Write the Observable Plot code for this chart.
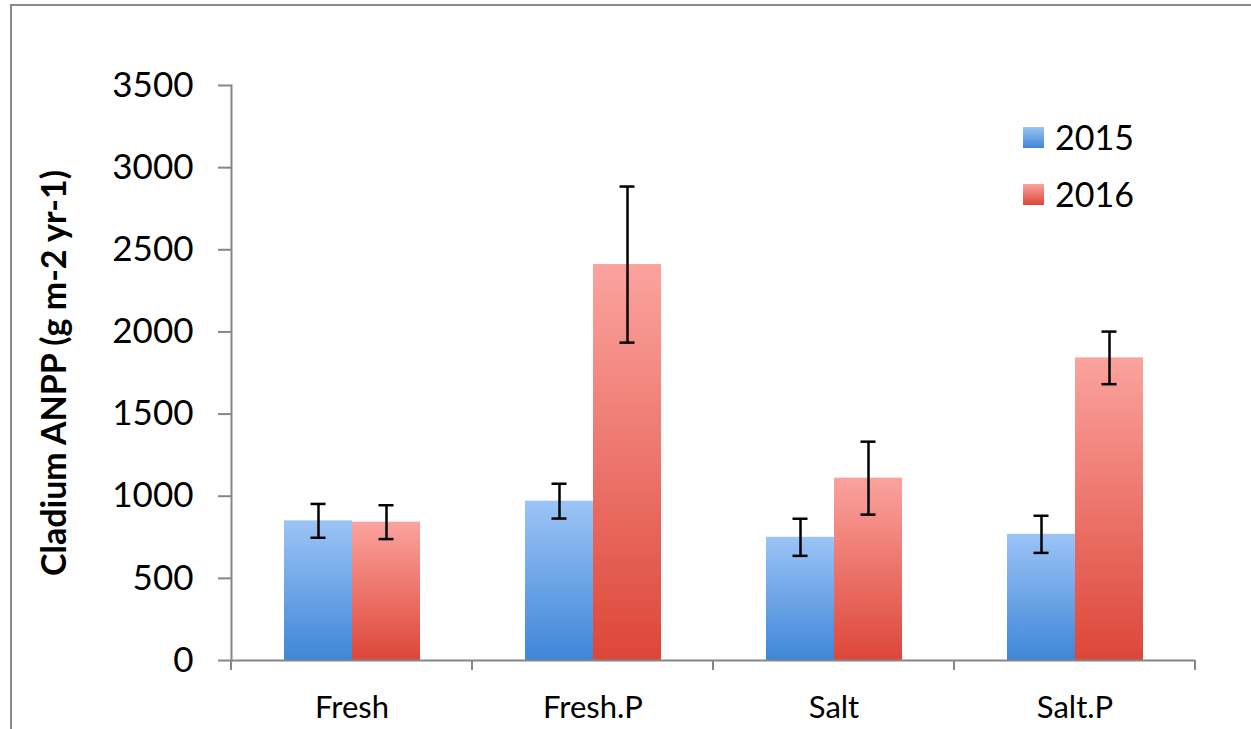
<!DOCTYPE html>
<html>
<head>
<meta charset="utf-8">
<script src="https://cdn.jsdelivr.net/npm/d3@7"></script>
<script src="https://cdn.jsdelivr.net/npm/@observablehq/plot@0.6"></script>
<style>
  body { margin: 0; background: #fff; }
  #wrap { position: relative; width: 1251px; height: 729px; overflow: hidden; font-family: Lato, sans-serif; background: #fff; }
  #border { position: absolute; left: 10px; top: 4px; width: 1400px; height: 900px;
            border-left: 2px solid #8a8a8a; border-top: 2px solid #8a8a8a; pointer-events: none; }
  #chart { position: absolute; left: 0; top: 0; }
  .item { position: absolute; left: 1023px; display: flex; align-items: center; height: 30px; }
  .sw { width: 21px; height: 21px; }
  .lab { margin-left: 11px; font-size: 34px; color: #000; line-height: 30px; }
</style>
</head>
<body>
<div id="wrap">
  <div id="chart"></div>
  <div id="border"></div>
  <div class="item" style="top:122px"><div class="sw" style="background:linear-gradient(#9cc4f6,#3f86d8)"></div><span class="lab">2015</span></div>
  <div class="item" style="top:179px"><div class="sw" style="background:linear-gradient(#fba39e,#dd4639)"></div><span class="lab">2016</span></div>
</div>
<script>
// Treatments along the x axis and the two sampling years
const categories = ["Fresh", "Fresh.P", "Salt", "Salt.P"];
const years = ["2015", "2016"];

// Mean annual net primary production of Cladium and its standard error, per treatment
const mean2015 = [850, 970, 750, 768];
const se2015   = [103, 106, 113, 113];
const mean2016 = [842, 2410, 1110, 1842];
const se2016   = [103, 475, 222, 160];

// Y axis tick values
const yTicks = [0, 500, 1000, 1500, 2000, 2500, 3000, 3500];

const rows = [];
categories.forEach((c, i) => {
  rows.push({cat: c, year: "2015", mean: mean2015[i], se: se2015[i]});
  rows.push({cat: c, year: "2016", mean: mean2016[i], se: se2016[i]});
});

const chart = Plot.plot({
  width: 1251,
  height: 729,
  marginLeft: 229,
  marginRight: 55,
  marginTop: 85,
  marginBottom: 69,
  style: {fontFamily: "Lato, sans-serif", color: "#000", background: "transparent"},
  fx: {domain: categories, padding: 0, axis: null},
  x: {domain: years, axis: null, paddingInner: 0, paddingOuter: 0.75},
  y: {domain: [0, 3500], axis: null},
  color: {domain: years, range: ["url(#grad2015)", "url(#grad2016)"]},
  marks: [
    Plot.barY(rows, {fx: "cat", x: "year", y: "mean", fill: "year"}),
    Plot.ruleY([0], {stroke: "#868686", strokeWidth: 2}),
    Plot.frame({anchor: "left", facetAnchor: "left", stroke: "#868686", strokeWidth: 2}),
    Plot.ruleX(rows, {fx: "cat", x: "year", y1: d => d.mean - d.se, y2: d => d.mean + d.se,
                      stroke: "#000", strokeWidth: 2.5}),
    Plot.tickY(rows, {fx: "cat", x: "year", y: d => d.mean + d.se, stroke: "#000", strokeWidth: 2.5, inset: 26.5}),
    Plot.tickY(rows, {fx: "cat", x: "year", y: d => d.mean - d.se, stroke: "#000", strokeWidth: 2.5, inset: 26.5}),
    Plot.axisY({ticks: yTicks, tickSize: 13, tickPadding: 25, fontSize: 35, stroke: "#868686",
                strokeWidth: 2, fill: "#000", label: null, tickFormat: d => String(d)}),
    Plot.axisY({ticks: [], label: "Cladium ANPP (g m-2 yr-1)", labelArrow: "none", labelAnchor: "center",
                labelOffset: 190, fontSize: 34, fontWeight: "bold", fill: "#000"}),
    Plot.axisFx({anchor: "bottom", tickSize: 0, tickPadding: 35, fontSize: 31, fill: "#000", label: null})
  ]
});

document.getElementById("chart").appendChild(chart);

// Vertical gradients used by the bar fills (light at top, saturated at bottom)
const svg = d3.select(chart);
const defs = svg.insert("defs", ":first-child");
[["grad2015", "#9cc4f6", "#3f86d8"], ["grad2016", "#fba39e", "#dd4639"]].forEach(([id, top, bottom]) => {
  const g = defs.append("linearGradient").attr("id", id).attr("x1", 0).attr("y1", 0).attr("x2", 0).attr("y2", 1);
  g.append("stop").attr("offset", "0%").attr("stop-color", top);
  g.append("stop").attr("offset", "100%").attr("stop-color", bottom);
});

// Category boundary ticks below the x axis, placed with the facet scale
const fx = chart.scale("fx");
const y = chart.scale("y");
const y0 = y.apply(0);
const bounds = categories.map(c => fx.apply(c)).concat([fx.apply(categories[categories.length - 1]) + fx.bandwidth]);
svg.append("g").selectAll("line").data(bounds).join("line")
  .attr("x1", d => d).attr("x2", d => d)
  .attr("y1", y0).attr("y2", y0 + 10)
  .attr("stroke", "#868686").attr("stroke-width", 2);
</script>
</body>
</html>
